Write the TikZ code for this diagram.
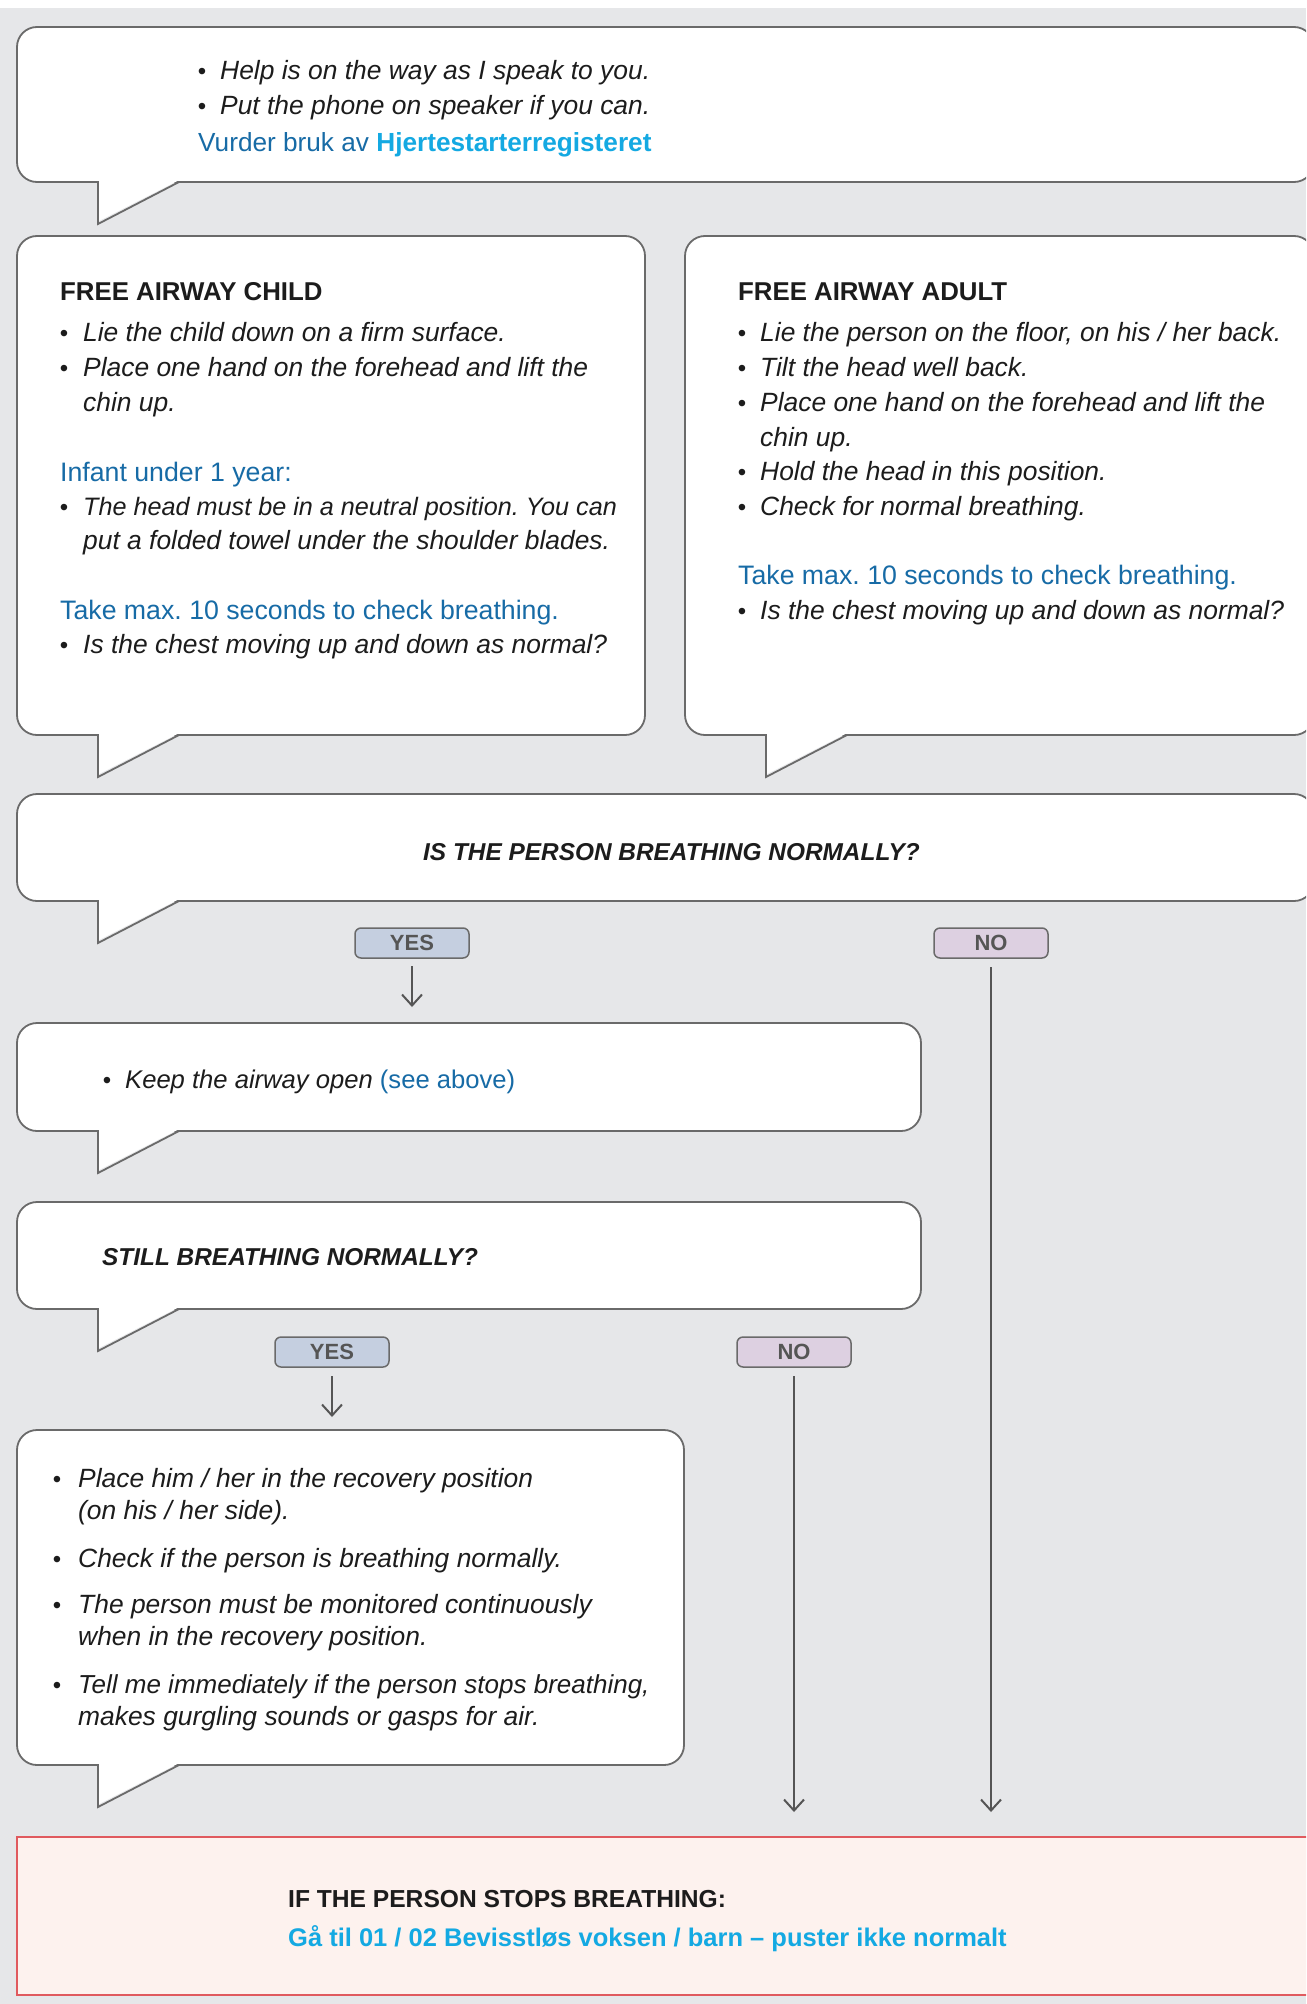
\documentclass[tikz,border=0pt]{standalone}
\usepackage{fontspec}
\setmainfont{Liberation Sans}
\usetikzlibrary{arrows.meta,calc}
\definecolor{bg}{HTML}{E6E7E9}
\definecolor{bord}{HTML}{6A6A6A}
\definecolor{dblue}{HTML}{176BA6}
\definecolor{lblue}{HTML}{14A9E2}
\definecolor{ink}{HTML}{1C1C1C}
\definecolor{yesfill}{HTML}{C5CFE0}
\definecolor{nofill}{HTML}{DDD0E1}
\definecolor{tagtext}{HTML}{555555}
\definecolor{alertfill}{HTML}{FDF2EE}
\definecolor{alertline}{HTML}{E05A5E}
\definecolor{arrowc}{HTML}{555555}
\newcommand\bodyfont{\fontsize{26.4}{32}\selectfont}
\newcommand\notefont{\fontsize{26.7}{32}\selectfont}
\newcommand\headfont{\fontsize{25.8}{30}\selectfont}
\newcommand\tagfont{\fontsize{22}{25}\selectfont}
\newcommand\tail[1]{%
  \fill[white] ($(#1.south west)+(82,1.1)$) -- ($(#1.south west)+(82,-39)$) -- ($(#1.south west)+(160.5,1.1)$) -- cycle;
  \draw[tailline] ($(#1.south west)+(81,0)$) -- ($(#1.south west)+(81,-42)$) -- ($(#1.south west)+(162,0)$);}
\newcommand\bitem[5]{\node[bul] (#1b) at (#2,-#4) {\textbullet}; \node[txt] (#1) at (#3,-#4) {#5};}
\tikzset{
  bubblebox/.style={draw=bord, fill=white, line width=1.8pt, rounded corners=20pt, inner sep=0pt, outer sep=0pt, anchor=north west},
  tailline/.style={draw=bord, line width=1.8pt, line join=miter},
  txt/.style={inner sep=0pt, anchor=base west, text=ink, font=\bodyfont\itshape},
  bul/.style={inner sep=0pt, anchor=base, text=ink, font=\fontsize{24}{25}\selectfont},
  head/.style={inner sep=0pt, anchor=base west, text=ink, font=\headfont\bfseries},
  note/.style={inner sep=0pt, anchor=base west, text=dblue, font=\notefont},
  tagbox/.style={draw=bord, line width=1.5pt, rounded corners=6pt, minimum width=114pt, minimum height=30pt, inner sep=0pt, outer sep=0pt, text=tagtext, font=\tagfont\bfseries},
  arr/.style={draw=arrowc, line width=2pt, -{Straight Barb[length=11pt,width=20pt]}},
  alertbox/.style={draw=alertline, fill=alertfill, line width=1.8pt, inner sep=0pt, outer sep=0pt, anchor=north west}
}
\begin{document}
\frenchspacing
\begin{tikzpicture}[x=1pt,y=1pt]
\useasboundingbox (0,0) rectangle (1306,-2004);
\clip (0,0) rectangle (1306,-2004);
\fill[white] (0,0) rectangle (1306,-8);
\fill[bg] (0,-8) rectangle (1306,-2004);

% top bubble
\node[bubblebox, minimum width=1297pt, minimum height=155pt] (top) at (17,-27) {};
\tail{top}
\bitem{t1}{202}{220}{80}{Help is on the way as I speak to you.}
\bitem{t2}{202}{220}{115}{Put the phone on speaker if you can.}
\node[note, font=\fontsize{26.2}{32}\selectfont] (t3) at (198,-152) {Vurder bruk av \textcolor{lblue}{\bfseries Hjertestarterregisteret}};

% child
\node[bubblebox, minimum width=628pt, minimum height=499pt] (child) at (17,-236) {};
\tail{child}
\node[head] (c0) at (60,-300) {FREE AIRWAY CHILD};
\bitem{c1}{64}{83}{341}{Lie the child down on a firm surface.}
\bitem{c2}{64}{83}{376}{Place one hand on the forehead and lift the}
\node[txt] (c2x) at (83,-411) {chin up.};
\node[note] (c3) at (60,-481) {Infant under 1 year:};
\bitem{c4}{64}{83}{515}{\fontsize{25.2}{32}\selectfont The head must be in a neutral position. You can}
\node[txt] (c4x) at (83,-549) {put a folded towel under the shoulder blades.};
\node[note] (c5) at (60,-619) {Take max. 10 seconds to check breathing.};
\bitem{c6}{64}{83}{653}{Is the chest moving up and down as normal?}

% adult
\node[bubblebox, minimum width=629pt, minimum height=499pt] (adult) at (685,-236) {};
\tail{adult}
\node[head] (a0) at (738,-300) {FREE AIRWAY ADULT};
\bitem{a1}{742}{760}{341}{Lie the person on the floor, on his / her back.}
\bitem{a2}{742}{760}{376}{Tilt the head well back.}
\bitem{a3}{742}{760}{411}{Place one hand on the forehead and lift the}
\node[txt] (a3x) at (760,-446) {chin up.};
\bitem{a4}{742}{760}{480}{Hold the head in this position.}
\bitem{a5}{742}{760}{515}{Check for normal breathing.}
\node[note] (a6) at (738,-584) {Take max. 10 seconds to check breathing.};
\bitem{a7}{742}{760}{619}{Is the chest moving up and down as normal?}

% question
\node[bubblebox, minimum width=1297pt, minimum height=107pt] (breath) at (17,-794) {};
\tail{breath}
\node[head, font=\fontsize{24.4}{30}\selectfont\bfseries\itshape] (q1) at (423,-860) {IS THE PERSON BREATHING NORMALLY?};

\node[tagbox, fill=yesfill] (yes1) at (412,-943) {YES};
\node[tagbox, fill=nofill] (no1) at (991,-943) {NO};

% keep
\node[bubblebox, minimum width=904pt, minimum height=108pt] (keep) at (17,-1023) {};
\tail{keep}
\bitem{k1}{107}{125}{1088}{\fontsize{25.6}{32}\selectfont Keep the airway open \textcolor{dblue}{\upshape(see above)}}

% still
\node[bubblebox, minimum width=904pt, minimum height=107pt] (still) at (17,-1202) {};
\tail{still}
\node[head, font=\fontsize{24.4}{30}\selectfont\bfseries\itshape] (s1) at (102,-1265) {STILL BREATHING NORMALLY?};

\node[tagbox, fill=yesfill] (yes2) at (332,-1352) {YES};
\node[tagbox, fill=nofill] (no2) at (794,-1352) {NO};

% recovery
\node[bubblebox, minimum width=667pt, minimum height=335pt] (recov) at (17,-1430) {};
\tail{recov}
\bitem{r1}{57}{78}{1487}{Place him / her in the recovery position}
\node[txt] (r1x) at (78,-1519) {(on his / her side).};
\bitem{r2}{57}{78}{1567}{Check if the person is breathing normally.}
\bitem{r3}{57}{78}{1613}{The person must be monitored continuously}
\node[txt] (r3x) at (78,-1645) {when in the recovery position.};
\bitem{r4}{57}{78}{1693}{\fontsize{26}{32}\selectfont Tell me immediately if the person stops breathing,}
\node[txt] (r4x) at (78,-1725) {makes gurgling sounds or gasps for air.};

% alert
\node[alertbox, minimum width=1303pt, minimum height=158pt] (alert) at (17,-1837) {};
\node[head, font=\fontsize{24.6}{30}\selectfont\bfseries] (al1) at (288,-1907) {IF THE PERSON STOPS BREATHING:};
\node[head, text=lblue, font=\fontsize{25.5}{30}\selectfont\bfseries] (al2) at (288,-1946) {Gå til 01 / 02 Bevisstløs voksen / barn – puster ikke normalt};

% connectors
\draw[arr, shorten <=8pt, shorten >=16pt] (yes1.south) -- (yes1.south |- keep.north);
\draw[arr, shorten <=9pt, shorten >=13pt] (yes2.south) -- (yes2.south |- recov.north);
\draw[arr, shorten <=9pt, shorten >=25pt] (no1.south) -- (no1.south |- alert.north);
\draw[arr, shorten <=9pt, shorten >=25pt] (no2.south) -- (no2.south |- alert.north);
\end{tikzpicture}
\end{document}
